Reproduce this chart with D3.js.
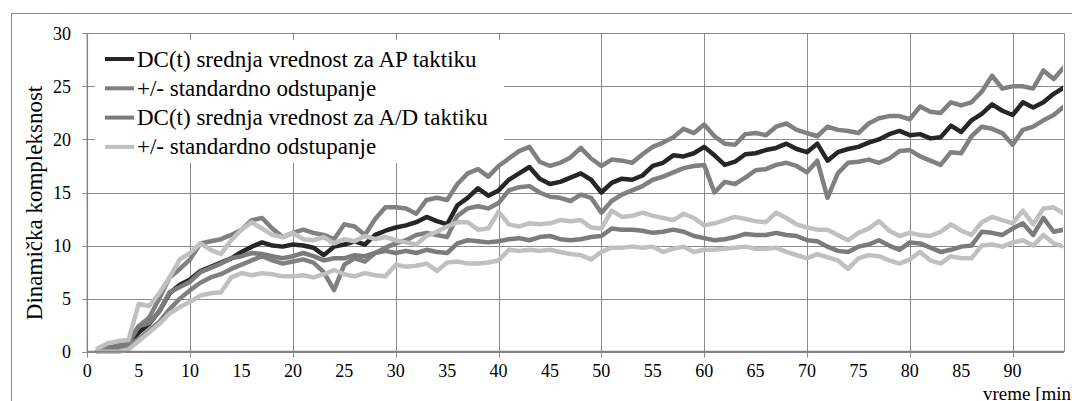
<!DOCTYPE html>
<html><head><meta charset="utf-8">
<script src="https://cdn.jsdelivr.net/npm/d3@7"></script>
<style>body{margin:0;background:#fff}svg{display:block}text{font-family:"Liberation Serif","Times New Roman",serif;fill:#000}</style>
</head><body><svg id="c" width="1072" height="401"></svg>
<script>
// time in minutes, 1..95
const minutes = d3.range(1, 96);
const apMean = [0,0.3,0.5,0.8,1.8,2.6,3.8,5.5,6.3,6.8,7.6,8.0,8.4,8.8,9.4,9.9,10.3,10.0,9.9,10.1,10.0,9.8,9.1,9.9,10.1,10.4,10.1,11.0,11.4,11.7,11.9,12.2,12.7,12.3,12.0,13.8,14.5,15.4,14.7,15.2,16.2,16.8,17.4,16.3,15.8,16.0,16.4,16.8,16.2,15.0,15.9,16.3,16.2,16.6,17.5,17.8,18.5,18.4,18.7,19.3,18.5,17.6,17.9,18.6,18.7,19.0,19.2,19.6,19.1,18.8,19.6,18.0,18.8,19.1,19.3,19.7,20.0,20.5,20.8,20.4,20.5,20.1,20.2,21.3,20.7,21.8,22.4,23.3,22.7,22.3,23.5,23.0,23.5,24.3,24.9];
const apUpper = [0,0.4,0.6,1.0,2.4,3.2,5.0,7.0,7.8,8.7,10.2,10.4,10.6,11.0,11.5,12.4,12.6,11.6,10.8,11.2,11.5,11.2,11.0,10.6,12.0,11.8,11.0,12.5,13.6,13.6,13.5,13.0,14.3,14.5,14.3,15.8,16.8,17.2,16.5,17.5,18.2,18.9,19.3,17.9,17.5,17.8,18.3,19.2,18.2,17.5,18.1,18.0,17.8,18.6,19.3,19.7,20.2,21.0,20.6,21.4,20.3,19.6,19.5,20.5,20.6,20.4,21.2,21.5,20.9,20.6,20.3,21.2,20.9,20.8,20.6,21.5,22.0,22.2,22.2,21.9,23.1,22.6,22.5,23.5,23.2,23.5,24.5,26.0,24.8,25.0,25.0,24.8,26.5,25.7,26.8];
const apLower = [0,0.2,0.3,0.6,1.2,2.0,2.8,4.0,5.0,5.8,6.5,7.0,7.3,7.8,8.2,8.6,9.0,8.6,8.3,8.5,8.7,8.4,7.5,5.8,8.2,8.8,8.5,9.3,9.8,10.2,10.5,11.0,11.2,11.0,10.8,12.8,13.5,13.7,13.5,14.0,15.2,15.5,15.6,15.0,14.6,14.5,14.2,14.8,14.5,13.1,14.2,14.8,15.2,15.6,16.2,16.5,16.9,17.3,17.5,17.6,15.0,16.0,15.8,16.4,17.1,17.2,17.6,17.8,17.5,16.9,18.0,14.5,16.8,17.8,17.9,18.1,17.8,18.2,18.9,19.0,18.4,18.0,17.6,18.8,18.7,20.3,21.2,21.0,20.6,19.5,20.9,21.2,21.8,22.3,23.1];
const adMean = [0,0.3,0.5,0.8,2.4,2.7,3.8,5.6,6.1,6.6,7.5,7.9,8.3,8.8,9.0,9.3,9.2,9.0,8.8,9.0,9.3,9.0,8.6,8.8,8.8,9.1,9.0,9.3,9.5,9.3,9.5,9.3,9.6,9.4,9.3,10.2,10.5,10.4,10.3,10.4,10.6,10.7,10.5,10.8,10.9,10.6,10.5,10.6,10.8,10.9,11.6,11.5,11.5,11.4,11.2,11.3,11.5,11.3,10.9,10.7,10.5,10.6,10.8,11.1,11.0,11.0,11.2,11.0,10.9,10.5,10.4,9.9,9.5,9.4,9.9,10.1,10.5,10.0,9.6,10.3,10.2,9.8,9.4,9.6,9.9,10.0,11.3,11.2,11.0,11.6,12.1,11.0,12.6,11.3,11.5];
const adUpper = [0.3,0.8,1.0,1.1,4.5,4.3,5.5,7.0,8.7,9.3,10.2,9.6,9.2,10.5,11.5,12.2,11.6,11.0,10.8,11.2,10.6,10.5,10.8,10.2,10.6,10.4,10.9,10.6,10.8,10.5,10.3,10.1,10.9,11.3,11.8,12.2,12.2,11.5,11.6,13.2,12.0,11.8,12.1,12.0,12.1,12.4,12.3,12.4,11.7,11.6,13.3,12.7,12.8,13.1,12.8,12.6,12.4,13.0,12.6,11.9,12.1,12.4,12.7,12.5,12.3,12.2,13.1,12.6,12.0,11.7,11.5,11.5,11.0,10.5,11.2,11.6,12.3,11.4,10.9,11.2,11.0,10.9,11.3,12.0,11.4,11.0,12.2,12.7,12.4,12.1,13.3,12.0,13.5,13.6,13.0];
const adLower = [0,0,0,0.2,1.0,1.8,2.6,3.6,4.2,4.7,5.3,5.5,5.6,7.0,7.4,7.2,7.4,7.3,7.1,7.1,7.2,7.0,7.3,7.7,7.3,7.1,7.4,7.2,7.1,8.2,8.0,8.1,8.3,7.6,8.4,8.5,8.3,8.3,8.4,8.6,9.6,9.5,9.6,9.5,9.6,9.4,9.2,9.1,8.7,9.4,9.8,9.8,9.9,9.8,9.9,9.4,9.7,9.9,9.4,9.6,9.6,9.7,9.8,9.9,9.7,9.7,9.8,9.4,9.1,8.8,9.2,8.9,8.6,7.8,8.8,9.1,9.0,8.6,8.3,8.7,9.4,8.6,8.3,9.0,8.8,8.8,10.0,10.1,9.9,10.3,10.5,10.0,11.0,10.2,9.9];
const xTickLabels = [0,5,10,15,20,25,30,35,40,45,50,55,60,65,70,75,80,85,90];
const yTickLabels = [0,5,10,15,20,25,30];
const legendLabels = ["DC(t) srednja vrednost za AP taktiku","+/- standardno odstupanje","DC(t) srednja vrednost za A/D taktiku","+/-  standardno odstupanje"];
const yTitle = "Dinamička kompleksnost";
const xTitle = "vreme [min]";

const svg = d3.select("#c");
const L = 87.3, R = 1064, T = 33.3, B = 351.7;
const x = d3.scaleLinear().domain([0,95]).range([L,R]);
const y = d3.scaleLinear().domain([0,30]).range([B,T]);
const gridC = "#8a8a8a";

// outer chart frame
svg.append("rect").attr("x",11.5).attr("y",13.5).attr("width",1200).attr("height",500)
  .attr("fill","none").attr("stroke","#8c8c8c").attr("stroke-width",1);

// gridlines
const g = svg.append("g");
g.selectAll(".hg").data(yTickLabels).join("line")
  .attr("x1",L-5).attr("x2",R).attr("y1",d=>Math.round(y(d))+0.5).attr("y2",d=>Math.round(y(d))+0.5)
  .attr("stroke",gridC).attr("stroke-width",1);
g.selectAll(".vg").data(d3.range(0,91,10)).join("line")
  .attr("x1",d=>Math.round(x(d))+0.5).attr("x2",d=>Math.round(x(d))+0.5).attr("y1",T).attr("y2",B+6)
  .attr("stroke",gridC).attr("stroke-width",1);
// right border
g.append("line").attr("x1",Math.round(R)+0.5).attr("x2",Math.round(R)+0.5).attr("y1",T).attr("y2",B).attr("stroke",gridC);

// legend background
svg.append("rect").attr("x",95).attr("y",40).attr("width",409).attr("height",123).attr("fill","#fff");

// series
svg.append("clipPath").attr("id","pc").append("rect").attr("x",L-3).attr("y",T-5).attr("width",R-L+2).attr("height",B-T+8);
const line = d3.line().x((d,i)=>x(minutes[i])).y(d=>y(d));
const series = [
  {v:apMean,c:"#262626",w:4.5},
  {v:apUpper,c:"#808080",w:4.5},
  {v:apLower,c:"#808080",w:4.5},
  {v:adMean,c:"#7b7b7b",w:4.5},
  {v:adUpper,c:"#c0c0c0",w:4.5},
  {v:adLower,c:"#c0c0c0",w:4.5}
];
const sg = svg.append("g").attr("clip-path","url(#pc)");
series.forEach(s=>{
  sg.append("path").attr("d",line(s.v)).attr("fill","none").attr("stroke",s.c)
    .attr("stroke-width",s.w).attr("stroke-linejoin","round").attr("stroke-linecap","round");
});

// axes lines
svg.append("line").attr("x1",L).attr("x2",R).attr("y1",B).attr("y2",B).attr("stroke","#858585").attr("stroke-width",2);
svg.append("line").attr("x1",L).attr("x2",L).attr("y1",T).attr("y2",B).attr("stroke","#858585").attr("stroke-width",1.5);

// tick labels
svg.selectAll(".yl").data(yTickLabels).join("text")
  .attr("x",71).attr("y",d=>y(d)).attr("dy","0.35em").attr("text-anchor","end")
  .style("font-size","18px").text(d=>d);
svg.selectAll(".xl").data(xTickLabels).join("text")
  .attr("x",d=>x(d)).attr("y",B+25).attr("text-anchor","middle")
  .style("font-size","18px").text(d=>d);

svg.append("text").attr("x",983).attr("y",400).style("font-size","19px").text(xTitle);
svg.append("text").attr("transform","translate(42,203) rotate(-90)")
  .attr("text-anchor","middle").style("font-size","23px").text(yTitle);

// legend
const lc = ["#262626","#808080","#7b7b7b","#c0c0c0"];
const lg = svg.append("g");
legendLabels.forEach((t,i)=>{
  const yy = 59 + i*29.3;
  lg.append("line").attr("x1",105).attr("x2",134).attr("y1",yy).attr("y2",yy).attr("stroke",lc[i]).attr("stroke-width",4);
  lg.append("text").attr("x",137).attr("y",yy).attr("dy","0.33em").style("font-size","23px").text(t);
});
</script></body></html>
